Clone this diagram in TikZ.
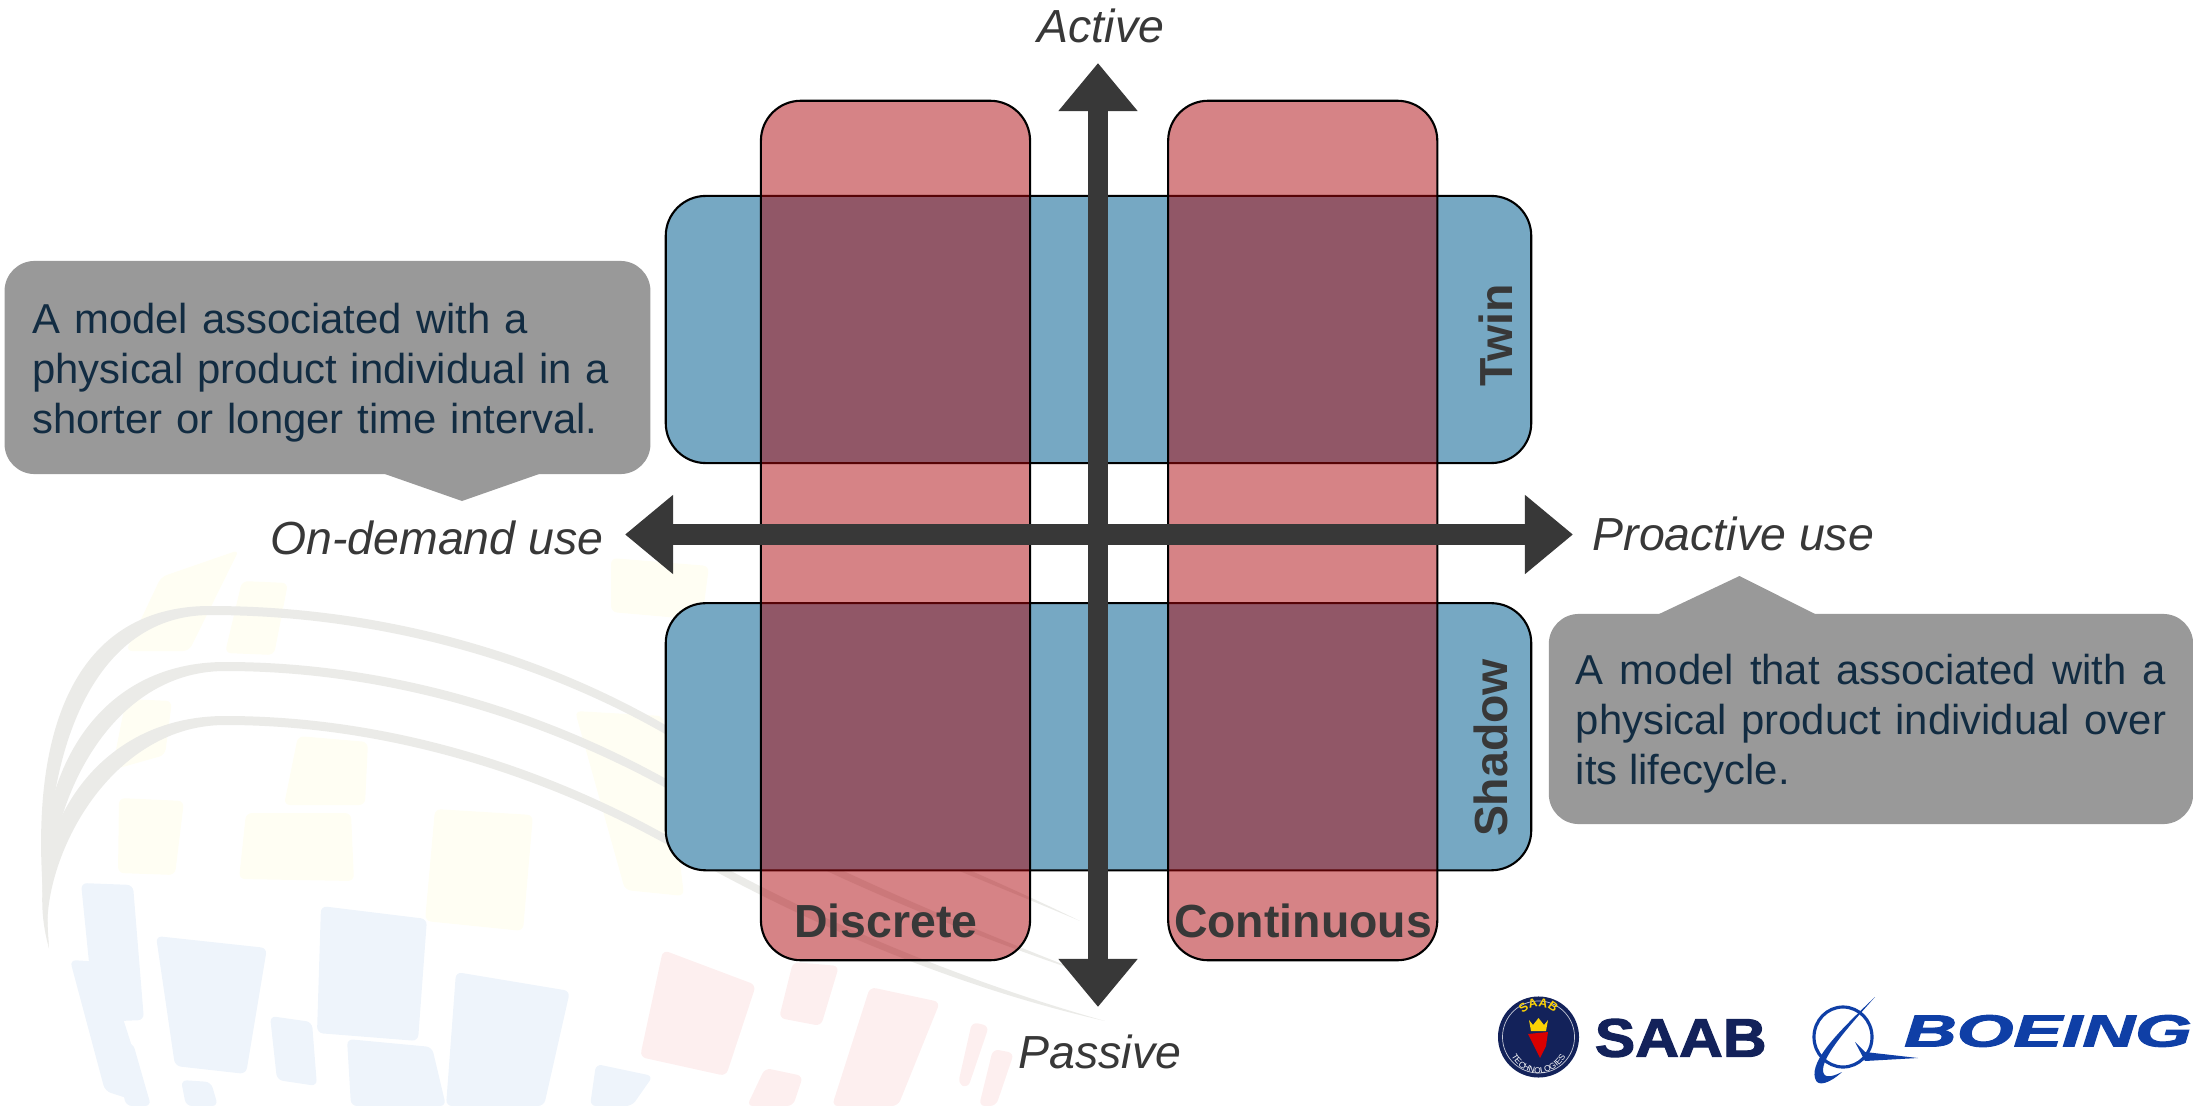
\documentclass[tikz,border=0pt]{standalone}
\usepackage{fontspec}
\setsansfont{Liberation Sans}
\newfontfamily\heavyfont[BoldFeatures={FakeBold=2},BoldItalicFeatures={FakeBold=2}]{Liberation Sans}
\usetikzlibrary{
  arrows.meta,
  positioning,  % Function "of" (e.g. [right=of x])
  decorations.text,
}
\definecolor{myblue}{HTML}{76A8C3}
\definecolor{myred}{HTML}{AD070D}
\definecolor{mygrey}{HTML}{999999}
\definecolor{myink}{HTML}{122C42}
\definecolor{mydark}{HTML}{383838}
\definecolor{saabnavy}{HTML}{13225A}
\definecolor{boeingblue}{HTML}{0F3FA6}
\definecolor{wmbluefill}{HTML}{EEF4FB}
\definecolor{wmredfill}{HTML}{FDEFEF}
\definecolor{wmyellowfill}{HTML}{FFFEF3}
\definecolor{wmlinefill}{HTML}{EBEBE8}
\def\myrad{4mm}
\tikzset{
  font=\sffamily,
  >=stealth,
  x=0.01cm,
  y=-0.01cm,
  my box/.style={
    draw=black,
    line width=0.6pt,
    inner sep=0mm,
    outer sep=0mm,
    rounded corners=\myrad,
    rectangle
  },
  my blue/.style={
    my box,
    fill=myblue,
    minimum width=8.65cm,
    minimum height=2.67cm
  },
  my red/.style={
    my box,
    fill=myred,
    fill opacity=0.5,
    minimum width=2.69cm,
    minimum height=8.59cm
  },
  my axis/.style={
    draw=mydark,
    line width=2mm,
    {Triangle[length=4.8mm,width=7.6mm]}-{Triangle[length=4.8mm,width=7.6mm]}
  },
  my axis label/.style={
    text=mydark,
    inner sep=0mm,
    font=\sffamily\itshape\fontsize{13.2}{15}\selectfont
  },
  my box label/.style={
    text=mydark,
    inner sep=0mm,
    font=\sffamily\bfseries\fontsize{13.2}{15}\selectfont
  },
  my note/.style={
    fill=mygrey,
    text=myink,
    inner sep=0mm,
    outer sep=0mm,
    rounded corners=3mm,
    rectangle,
    font=\sffamily\fontsize{11.9}{14.2}\selectfont
  },
  wm blue/.style={fill=wmbluefill,rounded corners=0.6mm},
  wm red/.style={fill=wmredfill,rounded corners=0.6mm},
  wm yellow/.style={fill=wmyellowfill,rounded corners=0.6mm},
  wm line/.style={fill=wmlinefill}
}

\begin{document}
\begin{tikzpicture}
\useasboundingbox (0,0) rectangle (2193,1106);

% faint slide background
\foreach \xa/\ya/\xb/\yb/\xc/\yc/\xd/\yd in {
  81/883/133/885/144/1020/95/1022, 70/960/105/962/151/1106/105/1091,
  156/936/267/948/246/1074/175/1066, 270/1016/312/1022/317/1086/277/1080,
  321/906/427/919/418/1041/317/1033, 347/1039/432/1047/446/1106/351/1106,
  456/972/570/991/544/1106/446/1106, 596/1064/653/1076/632/1106/590/1106,
  112/1041/133/1043/151/1106/126/1106, 181/1080/211/1082/218/1106/186/1106}
  \fill[wm blue] (\xa,\ya) -- (\xb,\yb) -- (\xc,\yc) -- (\xd,\yd) -- cycle;
\foreach \xa/\ya/\xb/\yb/\xc/\yc/\xd/\yd in {
  663/950/756/985/726/1076/640/1057, 793/962/839/966/821/1026/779/1018,
  870/987/940/1002/898/1106/832/1106, 972/1022/989/1026/968/1088/958/1084,
  765/1068/803/1076/793/1106/747/1106, 993/1049/1014/1053/996/1106/979/1106}
  \fill[wm red] (\xa,\ya) -- (\xb,\yb) -- (\xc,\yc) -- (\xd,\yd) -- cycle;
\foreach \xa/\ya/\xb/\yb/\xc/\yc/\xd/\yd in {
  435/809/533/815/523/931/425/921, 246/813/351/813/354/881/239/879,
  119/798/184/801/175/875/118/873, 298/736/368/742/365/805/284/805,
  575/711/663/716/684/896/625/890, 126/699/172/701/165/755/112/770,
  242/581/288/583/274/655/225/653, 161/577/239/550/189/651/126/651,
  611/558/709/566/702/620/611/612}
  \fill[wm yellow] (\xa,\ya) -- (\xb,\yb) -- (\xc,\yc) -- (\xd,\yd) -- cycle;
\foreach \dx/\dy/\dz/\ex/\ey in {0/0/0/1080/921, 15/56/62/1090/975, 15/110/118/1105/1021}
  \fill[wm line] (49,948) .. controls (20,740+\dy) and (70+\dx,606+\dy)
    .. (210+\dx,606+\dy) .. controls (380+\dx,606+\dy) and (540+\dx,652+\dz)
    .. (667+\dx,726+\dz) .. controls (800+\dx,802+\dz) and (960,862+\dz)
    .. (\ex,\ey) .. controls (960,870+\dz) and (800+\dx,810+\dz)
    .. (667+\dx,735+\dz) .. controls (540+\dx,662+\dz) and (380+\dx,615+\dy)
    .. (210+\dx,615+\dy) .. controls (90+\dx,615+\dy) and (35,760+\dy)
    .. (49,948) -- cycle;

% quadrants
\node[my blue] (twin)       at (1098.5,329.5)     {};
\node[my blue] (shadow)     [below=1.40cm of twin] {};
\node[my red]  (discrete)   at (895.5,530.5)      {};
\node[my red]  (continuous) [right=1.38cm of discrete] {};

\node[my box label]            (discretelbl)   at (886,921)  {Discrete};
\node[my box label]            (continuouslbl) at (1303,921) {Continuous};
\node[my box label,rotate=90]  (twinlbl)       at (1496,335) {Twin};
\node[my box label,rotate=90]  (shadowlbl)     at (1491,748) {Shadow};

% axes
\coordinate (up)    at (1098,63);
\coordinate (down)  at (1098,1007);
\coordinate (left)  at (625,534.5);
\coordinate (right) at (1573,534.5);
\draw[my axis] (left) -- (right);
\draw[my axis] (down) -- (up);
\node[my axis label]            (active)    at (1101,26)    {Active};
\node[my axis label]            (passive)   at (1100,1052)  {Passive};
\node[my axis label,anchor=east](ondemand)  at (604,538)    {On-demand use};
\node[my axis label,anchor=west](proactive) at (1592,534)   {Proactive use};

% notes
\fill[mygrey] (382,473) -- (462,501) -- (542,473) -- cycle;
\node[my note,minimum width=6.455cm,minimum height=2.13cm] (notel) at (327.5,367.5) {};
\node[text=myink,inner sep=0mm,text width=5.9cm,align=left,
  font=\sffamily\fontsize{11.9}{14.2}\selectfont] (notelt) at (327.5,372.5)
  {A model associated with a\\physical product individual in a\\shorter or longer time interval.};
\fill[mygrey] (1657,615) -- (1739.5,576) -- (1817,615) -- cycle;
\node[my note,minimum width=6.44cm,minimum height=2.10cm] (noter) at (1871,719) {};
\node[text=myink,inner sep=0mm,text width=5.9cm,align=justify,
  font=\sffamily\fontsize{11.9}{14.2}\selectfont] (notert) at (1871,724)
  {A model that associated with a physical product individual over its lifecycle.};

% logos
\node[circle,fill=saabnavy,inner sep=0mm,minimum size=0.81cm] (saabseal) at (1538.5,1037) {};
\draw[white!75!saabnavy,line width=0.2pt] (saabseal.center) circle [radius=0.36cm];
\path[decorate,decoration={text along path,text align=center,
    text={|\sffamily\bfseries\fontsize{3.5}{4}\selectfont\color{yellow!70!orange}|SAAB}}]
  (1515,1026) .. controls (1525,1000) and (1552,1000) .. (1562,1026);
\path[decorate,decoration={text along path,text align=center,
    text={|\sffamily\fontsize{2.4}{3}\selectfont\color{white}|TECHNOLOGIES}}]
  (1508,1048) .. controls (1518,1082) and (1559,1082) .. (1569,1048);
\fill[yellow!70!orange] (1529,1020) -- (1533,1025) -- (1538.5,1018) -- (1544,1025) -- (1548,1020)
  -- (1546,1031) -- (1531,1031) -- cycle;
\fill[red!85!black] (1528,1034) -- (1548,1032) -- (1546,1046) -- (1540,1058) -- (1534,1046) -- cycle;
\node[inner sep=0mm,anchor=west,text=saabnavy,xscale=1.12,
  font=\heavyfont\bfseries\fontsize{15.4}{16}\selectfont] (saab) at (1594,1038) {SAAB};

\draw[boeingblue,line width=0.9pt] (1843,1037) ellipse [x radius=29,y radius=30];
\fill[boeingblue] (1875,997) .. controls (1840,1030) and (1810,1060) .. (1815,1078)
  .. controls (1817,1088) and (1830,1083) .. (1842,1072)
  .. controls (1830,1078) and (1823,1078) .. (1823,1070)
  .. controls (1823,1055) and (1850,1025) .. (1875,997) -- cycle;
\fill[boeingblue] (1855,1042) -- (1865,1052) -- (1918,1058) -- (1865,1061) -- cycle;
\node[inner sep=0mm,anchor=west,text=boeingblue,xscale=1.62,
  font=\heavyfont\bfseries\itshape\fontsize{12.8}{14}\selectfont] (boeing) at (1903,1031) {BOEING};
\end{tikzpicture}
\end{document}
